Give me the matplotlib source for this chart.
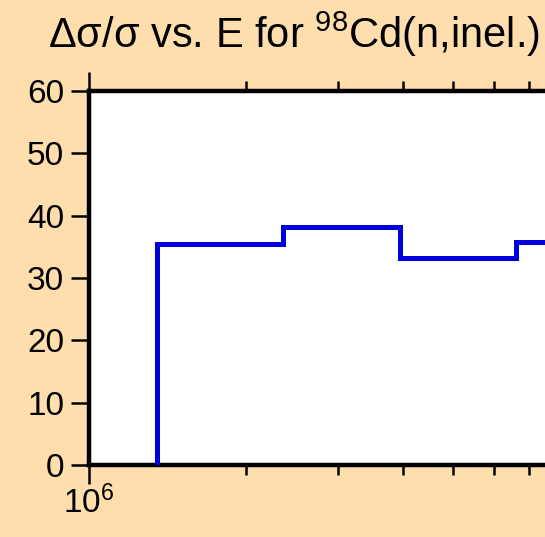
import numpy as np
import matplotlib
matplotlib.use("Agg")
import matplotlib.pyplot as plt
from matplotlib.ticker import NullFormatter, LogLocator

plt.rcParams["font.family"] = ["Liberation Sans", "DejaVu Sans"]
plt.rcParams["mathtext.fontset"] = "custom"
plt.rcParams["mathtext.rm"] = "Liberation Sans"
plt.rcParams["mathtext.default"] = "regular"

# ── Data ──────────────────────────────────────────────────────────────────────
energy_edges = [1.35e6, 2.36e6, 3.95e6, 6.6e6, 9.0e6]   # eV
rel_unc      = [35.5, 38.2, 33.2, 35.8]                  # percent
title        = "Δσ/σ vs. E for $^{98}$Cd(n,inel.)"
y_ticks      = [0, 10, 20, 30, 40, 50, 60]
x_ticks      = [1e6]   # only decade visible in the cropped view

BG = "#FFDEAD"
W, H = 545, 537

fig = plt.figure(figsize=(W / 100, H / 100), dpi=100, facecolor=BG)

# axes extends past the right edge (the reference is cropped)
left, right_px = 89, 89 + 521 * np.log10(20)
bottom, top = 465, 91
ax = fig.add_axes([left / W, (H - bottom) / H,
                   (right_px - left) / W, (bottom - top) / H])
ax.set_facecolor("white")

ax.stairs(rel_unc, energy_edges, baseline=0, color="#0000DD", linewidth=3.6,
          zorder=3)

ax.set_xscale("log")
ax.set_xlim(1e6, 2e7)
ax.set_ylim(0, 60)
ax.set_yticks(y_ticks)
ax.set_xticks(x_ticks)
ax.xaxis.set_minor_locator(LogLocator(base=10, subs=np.arange(2, 10)))
ax.xaxis.set_minor_formatter(NullFormatter())

for s in ax.spines.values():
    s.set_linewidth(3.2)

ax.tick_params(axis="y", which="major", direction="out", length=13, width=1.8,
               labelsize=24, pad=5, left=True, right=True)
ax.tick_params(axis="x", which="major", direction="out", length=14, width=1.8,
               labelsize=24, pad=1, top=True, bottom=True)
ax.tick_params(axis="x", which="minor", direction="out", length=7, width=1.8,
               top=True, bottom=True, labelbottom=False)

fig.text(48 / W, 1 - 48 / H, title, fontsize=30, ha="left", va="baseline")

fig.savefig("out.png", dpi=100, facecolor=BG)
